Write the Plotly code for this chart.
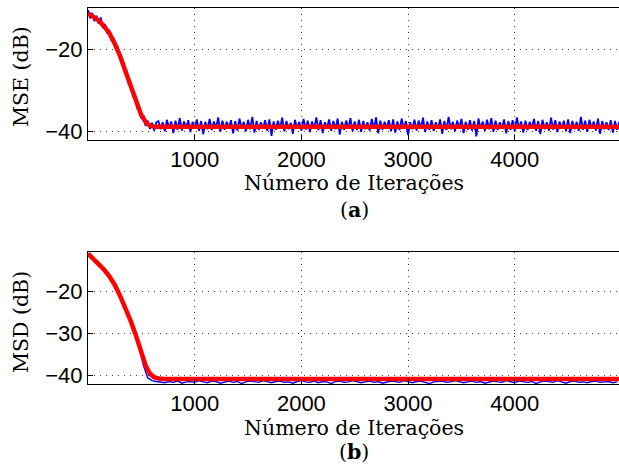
import plotly.graph_objects as go
from plotly.subplots import make_subplots

# ---------------- data ----------------
# (a) MSE: theoretical (red) curve, key points
mse_red_x = [0, 50, 100, 150, 200, 250, 300, 350, 400, 450, 500, 550, 600, 650, 4977]
mse_red_y = [-11.3, -12.2, -13.0, -14.4, -16.1, -18.6, -21.6, -25.3, -29.0, -32.8,
             -36.0, -38.0, -38.7, -38.8, -38.8]

# (a) MSE: simulated (blue) curve, one value every 20 iterations
mse_blue_y = [
    -10.5, -12.5, -11.2, -13.2, -11.9, -13.8, -12.3, -14.9, -13.9, -16.2, -15.3, -17.9,
    -17.3, -20.0, -19.6, -22.4, -22.3, -25.4, -25.2, -28.3, -28.2, -31.3, -31.2, -34.2,
    -33.9, -36.8, -36.0, -38.6, -37.3, -39.3, -37.8, -39.7, -37.7,
    -37.4, -39.4, -37.7, -39.9, -37.1, -39.2, -37.5, -40.3, -37.3, -39.5, -36.7, -39.7,
    -37.5, -39.1, -37.2, -40.1, -37.6, -39.3, -37.0, -39.8, -37.4, -40.6, -37.6, -39.4,
    -36.9, -39.6, -37.5, -39.2, -36.5, -40.0, -37.3, -39.5, -37.6, -39.1, -37.2, -40.4,
    -37.4, -39.7, -36.8, -39.3, -37.6, -39.9, -37.1, -39.4, -36.4, -40.2, -37.4, -39.6,
    -37.7, -39.2, -37.2, -39.8, -37.0, -41.0, -37.5, -39.5, -37.3, -39.3, -36.6, -39.9,
    -37.4, -39.4, -37.8, -40.5, -37.1, -39.2, -37.6, -39.7, -36.9, -39.5, -37.3, -40.1,
    -37.5, -39.3, -36.5, -39.6, -37.2, -40.3, -37.7, -39.1, -37.0, -39.8, -37.4, -39.4,
    -36.8, -40.7, -37.6, -39.5, -37.3, -39.2, -36.7, -39.9, -37.5, -39.6, -37.1, -40.0,
    -37.4, -39.4, -37.7, -39.7, -36.9, -39.3, -36.5, -40.4, -37.3, -39.5, -37.6, -39.1,
    -37.2, -39.9, -37.0, -40.2, -37.5, -39.6, -36.8, -39.3, -37.4, -40.8, -37.7, -39.4,
    -37.1, -39.7, -37.3, -39.2, -36.6, -40.1, -37.5, -39.5, -37.2, -39.8, -37.7, -39.3,
    -37.0, -40.5, -37.4, -39.6, -36.4, -39.4, -37.6, -39.9, -37.3, -39.2, -36.9, -40.3,
    -37.6, -39.5, -37.2, -39.7, -37.4, -41.1, -36.8, -39.3, -37.5, -39.8, -37.1, -39.4,
    -36.7, -40.0, -37.3, -39.6, -37.7, -39.2, -37.0, -40.4, -37.4, -39.5, -37.2, -39.9,
    -36.5, -39.3, -37.5, -40.2, -37.3, -39.6, -37.6, -39.1, -36.9, -39.8, -37.4, -40.6,
    -37.1, -39.4, -37.7, -39.7, -36.6, -39.5, -37.2, -40.1, -37.5, -39.3, -37.3, -39.9,
    -37.0, -40.3, -37.4, -39.4, -37.6, -39.8, -36.4, -39.5, -37.3, -40.0, -37.1, -39.2,
    -37.5, -39.7, -36.8, -40.5, -37.4, -39.4, -37.7, -39.6, -37.2, -40.2, -37.4, -39.5,
    -37.6,
]
mse_blue_step = 20

# (b) MSD: theoretical (red) curve, key points
msd_red_x = [0, 50, 100, 150, 200, 250, 300, 350, 400, 450, 500, 540, 580, 620, 660,
             720, 4977]
msd_red_y = [-11.0, -12.2, -13.4, -14.8, -16.4, -18.4, -21.0, -23.9, -27.0, -30.5,
             -34.6, -37.6, -39.5, -40.4, -40.7, -40.8, -40.8]

# (b) MSD: simulated (blue) curve, one value every 40 iterations
msd_blue_y = [
    -11.0, -11.9, -12.9, -14.0, -15.1, -16.4, -18.0, -19.9, -22.1, -24.5, -27.0, -29.8,
    -33.4, -37.6, -40.5, -41.2, -41.4,
    -41.5, -41.7, -41.4, -41.6, -41.3, -41.8, -41.5, -41.4, -41.6, -41.2, -41.5, -41.7,
    -41.3, -41.4, -41.8, -41.5, -41.3, -41.6, -41.4, -41.9, -41.5, -41.3, -41.4, -41.6,
    -41.2, -41.5, -41.7, -41.4, -41.3, -41.6, -41.5, -41.8, -41.4, -41.2, -41.5, -41.6,
    -41.3, -41.7, -41.4, -41.5, -41.9, -41.4, -41.3, -41.6, -41.5, -41.2, -41.4, -41.7,
    -41.5, -41.3, -41.6, -41.4, -41.8, -41.5, -41.3, -41.4, -41.6, -41.2, -41.5, -41.7,
    -41.4, -41.3, -41.6, -41.9, -41.5, -41.4, -41.3, -41.6, -41.5, -41.2, -41.4, -41.7,
    -41.5, -41.3, -41.6, -41.4, -41.8, -41.5, -41.3, -41.5, -41.6, -41.2, -41.4, -41.7,
    -41.3, -41.5, -41.6, -41.4, -41.9, -41.5, -41.3, -41.4, -41.6, -41.2, -41.5, -41.8,
    -41.4, -41.3, -41.6, -41.5, -41.7, -41.4, -41.3, -41.6, -41.5, -41.4, -41.7, -41.5,
]
msd_blue_step = 40

x_ticks = [1000, 2000, 3000, 4000]
mse_y_ticks = [-20, -40]
msd_y_ticks = [-20, -30, -40]
x_title = "Número de Iterações"
mse_title = "MSE (dB)"
msd_title = "MSD (dB)"

# ---------------- figure ----------------
mse_blue_x = [mse_blue_step * i for i in range(len(mse_blue_y))]
msd_blue_x = [msd_blue_step * i for i in range(len(msd_blue_y))]

W, H = 619, 470
L, R, T, B = 88, 0, 8, 86
PW, PH = W - L - R, H - T - B

def px(xp):
    return (xp - L) / PW

def py(yp):
    return (H - B - yp) / PH

fig = make_subplots(rows=2, cols=1)
fig.add_trace(go.Scatter(x=mse_blue_x, y=mse_blue_y, mode="lines",
                         line=dict(color="#0000FF", width=1.8)), row=1, col=1)
fig.add_trace(go.Scatter(x=mse_red_x, y=mse_red_y, mode="lines",
                         line=dict(color="#FF0000", width=4.5)), row=1, col=1)
fig.add_trace(go.Scatter(x=msd_blue_x, y=msd_blue_y, mode="lines",
                         line=dict(color="#0000FF", width=1.4)), row=2, col=1)
fig.add_trace(go.Scatter(x=msd_red_x, y=msd_red_y, mode="lines",
                         line=dict(color="#FF0000", width=4.5)), row=2, col=1)

tickfont = dict(family="Liberation Sans, Arial, sans-serif", size=22, color="black")
common_x = dict(range=[0, 4977], tickvals=x_ticks, showgrid=True, gridcolor="#444444",
                griddash="1px,5px", gridwidth=1, zeroline=False, showline=True,
                linecolor="black", linewidth=1, mirror=True, ticks="inside",
                ticklen=5, tickcolor="black", tickfont=tickfont)
common_y = dict(showgrid=True, gridcolor="#444444", griddash="1px,5px", gridwidth=1,
                zeroline=False, showline=True, linecolor="black", linewidth=1,
                ticks="inside", ticklen=5, tickcolor="black", tickfont=tickfont)

fig.update_layout(
    width=W, height=H, showlegend=False,
    margin=dict(l=L, r=R, t=T, b=B),
    paper_bgcolor="white", plot_bgcolor="white",
    xaxis=dict(domain=[0, 1], anchor="y", **common_x),
    xaxis2=dict(domain=[0, 1], anchor="y2", **common_x),
    yaxis=dict(domain=[py(140), 1], anchor="x", range=[-42, -10],
               tickvals=mse_y_ticks, **common_y),
    yaxis2=dict(domain=[0, py(252.3)], anchor="x2", range=[-42, -10.7],
                tickvals=msd_y_ticks, **common_y),
)

serif = dict(family="DejaVu Serif, serif", size=20.5, color="black")
ann = [
    (x_title, 354, 183, 0),
    ("(<b>a</b>)", 354, 210, 0),
    (x_title, 354, 428, 0),
    ("(<b>b</b>)", 354, 452, 0),
    (mse_title, 21, 77, -90),
    (msd_title, 21, 322, -90),
]
for text, xp, yp, ang in ann:
    fig.add_annotation(text=text, xref="paper", yref="paper", x=px(xp), y=py(yp),
                       xanchor="center", yanchor="middle", showarrow=False,
                       textangle=ang, font=serif)

fig.write_html("out.html", config={"displayModeBar": False},
               post_script="document.body.style.margin='0';document.body.style.overflow='hidden';")
